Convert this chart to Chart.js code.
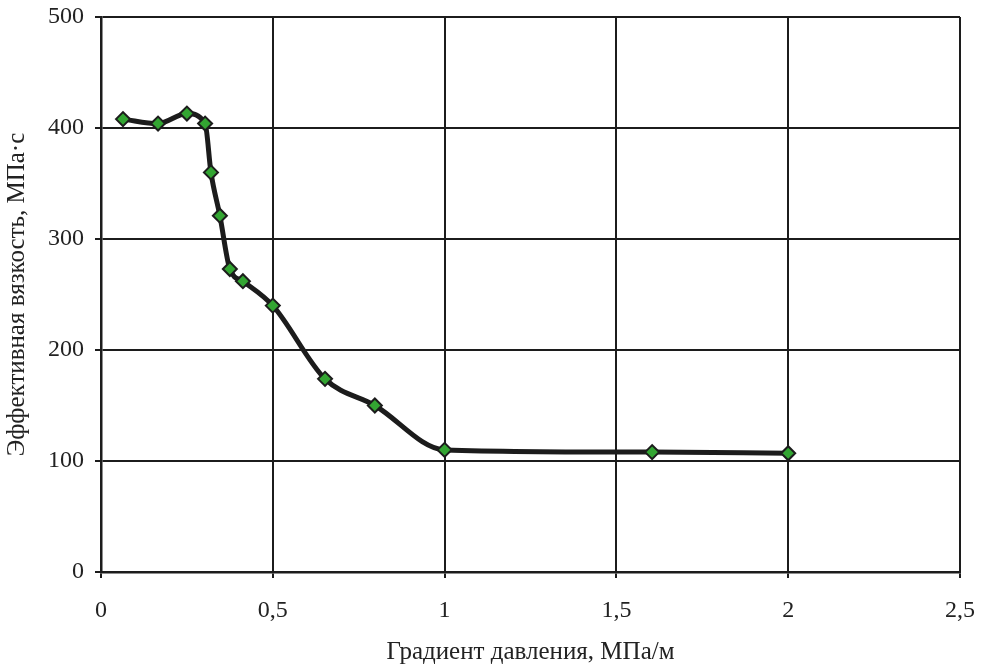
<!DOCTYPE html>
<html lang="ru">
<head>
<meta charset="utf-8">
<title>Эффективная вязкость</title>
<script src="https://cdn.jsdelivr.net/npm/chart.js@4"></script>
<style>
    html, body { margin: 0; padding: 0; background: #fff; }
    #wrap { width: 982px; height: 667px; }
</style>
</head>
<body>
<div id="wrap"><canvas id="chart"></canvas></div>
<script>
// --- Data ---
const gradient = [0.064, 0.166, 0.25, 0.303, 0.32, 0.346, 0.375, 0.413, 0.5, 0.652, 0.797, 1.0, 1.604, 2.0];
const viscosity = [408, 404, 413, 404, 360, 321, 273, 262, 240, 174, 150, 110, 108, 107];
const xTicks = [0, 0.5, 1, 1.5, 2, 2.5];
const xTickLabels = ['0', '0,5', '1', '1,5', '2', '2,5'];
const xTitle = 'Градиент давления, МПа/м';
const yTitle = 'Эффективная вязкость, МПа·с';

const points = gradient.map((g, i) => ({ x: g, y: viscosity[i] }));

Chart.defaults.font.family = "'Liberation Serif', 'Times New Roman', serif";
Chart.defaults.color = '#222';

new Chart(document.getElementById('chart'), {
    type: 'scatter',
    data: {
        datasets: [{
            data: points,
            showLine: true,
            borderColor: '#1c1c1c',
            borderWidth: 5,
            cubicInterpolationMode: 'monotone',
            pointStyle: 'rectRot',
            pointRadius: 7,
            pointHoverRadius: 7,
            pointBackgroundColor: '#33a532',
            pointBorderColor: '#1c1c1c',
            pointBorderWidth: 2,
        }]
    },
    options: {
        responsive: true,
        maintainAspectRatio: false,
        animation: false,
        layout: { padding: { top: 17, right: 22, left: 0, bottom: 0 } },
        plugins: { legend: { display: false }, tooltip: { enabled: false } },
        scales: {
            x: {
                type: 'linear',
                min: 0,
                max: 2.5,
                afterBuildTicks: (axis) => { axis.ticks = xTicks.map(v => ({ value: v })); },
                ticks: {
                    font: { size: 24 },
                    padding: 18,
                    maxRotation: 0,
                    callback: (v) => xTickLabels[xTicks.indexOf(v)],
                },
                grid: { color: '#1c1c1c', lineWidth: 2, tickLength: 6 },
                border: { color: '#1c1c1c', width: 2.5 },
                title: { display: true, text: xTitle, font: { size: 25 }, padding: { top: 0, bottom: 0 } },
                afterFit: (scale) => {
                    scale.height = 95;
                    scale.paddingLeft = 0;
                    scale.paddingRight = 0;
                },
            },
            y: {
                min: 0,
                max: 500,
                ticks: { stepSize: 100, font: { size: 24 }, padding: 11 },
                grid: { color: '#1c1c1c', lineWidth: 2, tickLength: 6 },
                border: { color: '#1c1c1c', width: 2.5 },
                title: { display: true, text: yTitle, font: { size: 25 }, padding: { top: 2, bottom: 10 } },
                afterFit: (scale) => {
                    scale.width = 101;
                    scale.paddingTop = 0;
                    scale.paddingBottom = 0;
                },
            }
        }
    }
});
</script>
</body>
</html>
